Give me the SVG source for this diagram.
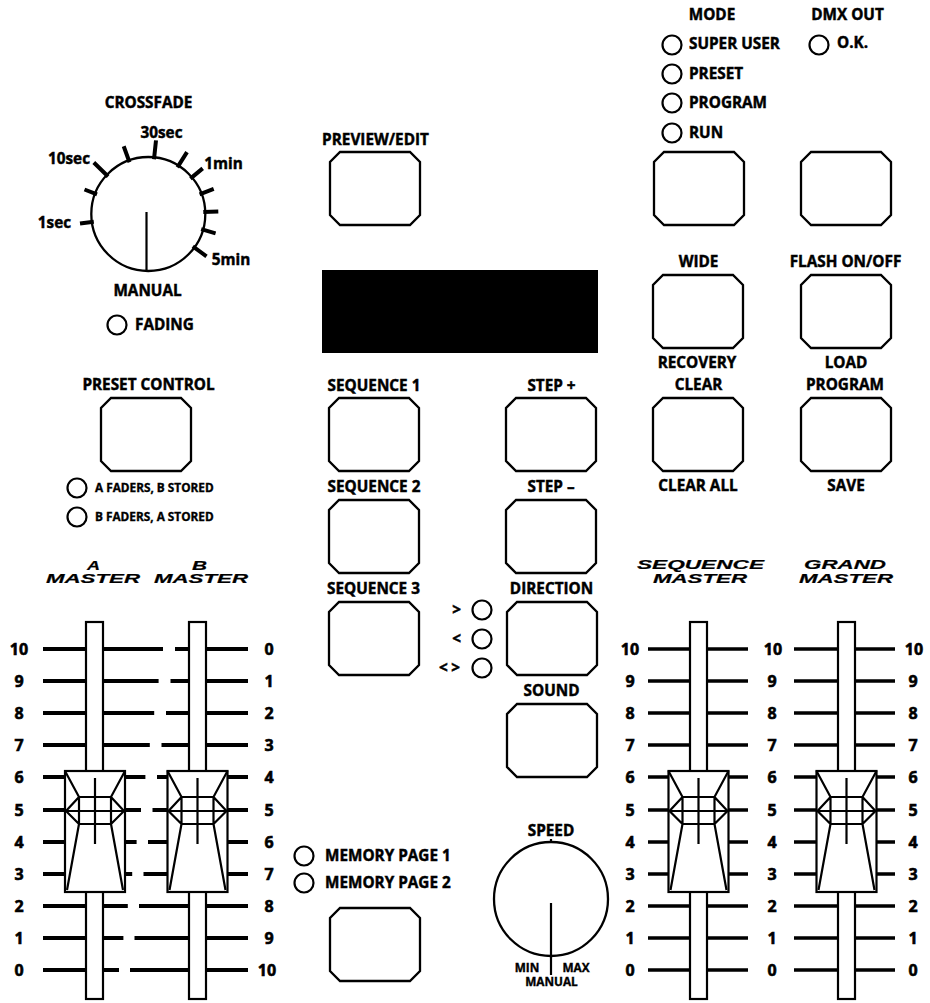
<svg xmlns="http://www.w3.org/2000/svg" xmlns:xlink="http://www.w3.org/1999/xlink" width="930" height="1003" viewBox="0 0 930 1003">
<style>
.b{fill:#fff;stroke:#000;stroke-width:2.3}
.led{fill:#fff;stroke:#000;stroke-width:2.2}
.ln{fill:none;stroke:#000;stroke-width:2.2}
.tk{fill:none;stroke:#000;stroke-width:4}
.tk3{fill:none;stroke:#000;stroke-width:3.3}
.dt{fill:none;stroke:#000;stroke-width:4}
text{font-family:"Open Sans","DejaVu Sans",sans-serif;font-weight:700;font-size:15.3px;fill:#000;stroke:#000;stroke-width:0.45}
.c{text-anchor:middle}
.e{text-anchor:end}
.s{font-size:11.8px;stroke-width:0.35}
.n{font-size:16px;text-anchor:middle;stroke-width:0.6}
.m{font-family:"Liberation Sans",Arial,sans-serif;font-style:italic;font-size:13px;stroke-width:0.2}
</style>
<defs>
<path id="btn" class="b" d="M10 0H80L90 10V63L80 73H10L0 63V10Z"/>
<g id="knob">
<rect x="-30" y="771" width="60" height="121" fill="#fff" stroke="#000" stroke-width="2.2"/>
<path class="ln" d="M-30 771L-16 797H16L30 771M-16 797V824H16V797M-29 811H29M-16 797L-29 811L-16 824M16 797L29 811L16 824M-16 824L-28 890M16 824L28 890M0 778V844"/>
</g>
</defs>
<rect width="930" height="1003" fill="#fff"/>

<g id="crossfade">
<text class="c" x="148.5" y="108">CROSSFADE</text>
<circle cx="148.3" cy="214" r="57" fill="#fff" stroke="#000" stroke-width="2.3"/>
<path class="dt" d="M93.8 221.7L80 223.5M97 194.3L84.5 189.5M108.1 176.5L93.8 162.5M129.5 162.3L123.7 146.3M154 159.3L156 140.4M177.4 167.4L187 152.1M190.4 178.6L202.7 168.4M199.6 194.3L213.7 188.9M203.3 212.1L218.3 211.6M201.2 229.2L215.6 233.3M192.8 246.3L206.5 256.3"/>
<path class="ln" d="M146.5 212V272"/>
<text class="c" x="161.5" y="138">30sec</text>
<text class="c" x="69" y="164">10sec</text>
<text class="c" x="223.5" y="169">1min</text>
<text class="c" x="54.5" y="228">1sec</text>
<text class="c" x="231" y="265">5min</text>
<text class="c" x="147.5" y="296">MANUAL</text>
</g>
<g id="fading">
<circle class="led" cx="117" cy="325" r="9.5"/>
<text x="135" y="330">FADING</text>
</g>

<g id="preview-edit">
<text class="c" x="375.5" y="145">PREVIEW/EDIT</text>
<use xlink:href="#btn" x="330" y="152"/>
</g>
<g id="display"><rect x="322" y="270" width="276" height="83" fill="#000"/></g>

<g id="mode">
<text class="c" x="712" y="20">MODE</text>
<circle class="led" cx="672" cy="45" r="9.5"/><text x="689" y="49">SUPER USER</text>
<circle class="led" cx="672" cy="74" r="9.5"/><text x="689" y="79">PRESET</text>
<circle class="led" cx="672" cy="103" r="9.5"/><text x="689" y="108">PROGRAM</text>
<circle class="led" cx="672" cy="133" r="9.5"/><text x="689" y="138">RUN</text>
<use xlink:href="#btn" x="654" y="152"/>
</g>
<g id="dmx-out">
<text class="c" x="847.5" y="20">DMX OUT</text>
<circle class="led" cx="819" cy="45" r="9.5"/><text x="837" y="48">O.K.</text>
<use xlink:href="#btn" x="801" y="152"/>
</g>
<g id="wide">
<text class="c" x="698.5" y="267">WIDE</text>
<use xlink:href="#btn" x="653" y="275"/>
<text class="c" x="697" y="368">RECOVERY</text>
</g>
<g id="flash">
<text class="c" x="845.5" y="267">FLASH ON/OFF</text>
<use xlink:href="#btn" x="801" y="275"/>
<text class="c" x="846" y="368">LOAD</text>
</g>
<g id="clear">
<text class="c" x="698.5" y="390">CLEAR</text>
<use xlink:href="#btn" x="653" y="398"/>
<text class="c" x="698" y="491">CLEAR ALL</text>
</g>
<g id="program">
<text class="c" x="845" y="390">PROGRAM</text>
<use xlink:href="#btn" x="801" y="398"/>
<text class="c" x="846" y="491">SAVE</text>
</g>

<g id="preset-control">
<text class="c" x="148.5" y="390">PRESET CONTROL</text>
<use xlink:href="#btn" x="101" y="398"/>
<circle class="led" cx="77" cy="488" r="9.5"/><text class="s" x="95" y="492">A FADERS, B STORED</text>
<circle class="led" cx="77" cy="517" r="9.5"/><text class="s" x="95" y="521">B FADERS, A STORED</text>
</g>

<g id="sequence-1"><text class="c" x="374" y="391">SEQUENCE 1</text><use xlink:href="#btn" x="329" y="398"/></g>
<g id="step-plus"><text class="c" x="551.5" y="391">STEP +</text><use xlink:href="#btn" x="506" y="398"/></g>
<g id="sequence-2"><text class="c" x="374" y="492">SEQUENCE 2</text><use xlink:href="#btn" x="329" y="500"/></g>
<g id="step-minus"><text class="c" x="551" y="492">STEP –</text><use xlink:href="#btn" x="506" y="500"/></g>
<g id="sequence-3"><text class="c" x="373.5" y="594">SEQUENCE 3</text><use xlink:href="#btn" x="329" y="602"/></g>
<g id="direction">
<text class="c" x="551.5" y="594">DIRECTION</text>
<use xlink:href="#btn" x="507" y="602"/>
<circle class="led" cx="482" cy="610" r="9.5"/><text class="e" x="461" y="615">&gt;</text>
<circle class="led" cx="482" cy="639" r="9.5"/><text class="e" x="461" y="644">&lt;</text>
<circle class="led" cx="482" cy="668" r="9.5"/><text x="439" y="673" textLength="21">&lt;&gt;</text>
</g>
<g id="sound"><text class="c" x="551.5" y="696">SOUND</text><use xlink:href="#btn" x="507" y="704"/></g>

<g id="memory-page">
<circle class="led" cx="304" cy="856" r="9.5"/><text x="325" y="861">MEMORY PAGE 1</text>
<circle class="led" cx="304" cy="883" r="9.5"/><text x="325" y="888">MEMORY PAGE 2</text>
<use xlink:href="#btn" x="330" y="908"/>
</g>

<g id="speed">
<text class="c" x="551" y="836">SPEED</text>
<circle cx="551" cy="899" r="57" fill="#fff" stroke="#000" stroke-width="2.3"/>
<path class="ln" d="M551 839V843M551 903V975"/>
<text class="c s" x="527" y="972">MIN</text>
<text class="c s" x="576" y="972">MAX</text>
<text class="c s" x="551.5" y="986">MANUAL</text>
</g>

<g id="ab-faders">
<text class="m" x="87" y="570" textLength="13" lengthAdjust="spacingAndGlyphs">A</text>
<text class="m" x="46" y="583" textLength="94" lengthAdjust="spacingAndGlyphs">MASTER</text>
<text class="m" x="192" y="570" textLength="15" lengthAdjust="spacingAndGlyphs">B</text>
<text class="m" x="154" y="583" textLength="94" lengthAdjust="spacingAndGlyphs">MASTER</text>
<path class="tk" d="M43 649H163M175 649H248M43 681H158.6M170.5 681H248M43 713H154.2M166 713H248M43 745H149.8M161.5 745H248M43 777H145.4M157 777H248M43 810H141M152.5 810H248M43 842H136.6M148 842H248M43 874H132.2M143.5 874H248M43 906H127.8M139 906H248M43 938H123.4M134.5 938H248M43 970H119M130 970H248"/>
<rect x="86" y="622" width="17" height="377" fill="#fff" stroke="#000" stroke-width="2.2"/>
<rect x="189" y="622" width="17" height="377" fill="#fff" stroke="#000" stroke-width="2.2"/>
<use xlink:href="#knob" x="95"/>
<use xlink:href="#knob" x="197.5"/>
<text class="n" x="19" y="655">10</text><text class="n" x="19" y="687">9</text><text class="n" x="19" y="719">8</text><text class="n" x="19" y="751">7</text><text class="n" x="19" y="783">6</text><text class="n" x="19" y="816">5</text><text class="n" x="19" y="848">4</text><text class="n" x="19" y="880">3</text><text class="n" x="19" y="912">2</text><text class="n" x="19" y="944">1</text><text class="n" x="19" y="976">0</text>
<text class="n" x="269" y="655">0</text><text class="n" x="269" y="687">1</text><text class="n" x="269" y="719">2</text><text class="n" x="269" y="751">3</text><text class="n" x="269" y="783">4</text><text class="n" x="269" y="816">5</text><text class="n" x="269" y="848">6</text><text class="n" x="269" y="880">7</text><text class="n" x="269" y="912">8</text><text class="n" x="269" y="944">9</text><text class="n" x="267" y="976">10</text>
</g>

<g id="sequence-master">
<text class="m" x="637" y="569" textLength="127" lengthAdjust="spacingAndGlyphs">SEQUENCE</text>
<text class="m" x="653" y="583" textLength="94" lengthAdjust="spacingAndGlyphs">MASTER</text>
<path class="tk3" d="M648 649H748M648 681H748M648 713H748M648 745H748M648 777H748M648 810H748M648 842H748M648 874H748M648 906H748M648 938H748M648 970H748"/>
<rect x="690" y="622" width="17" height="377" fill="#fff" stroke="#000" stroke-width="2.2"/>
<use xlink:href="#knob" x="698.5"/>
<text class="n" x="630" y="655">10</text><text class="n" x="630" y="687">9</text><text class="n" x="630" y="719">8</text><text class="n" x="630" y="751">7</text><text class="n" x="630" y="783">6</text><text class="n" x="630" y="816">5</text><text class="n" x="630" y="848">4</text><text class="n" x="630" y="880">3</text><text class="n" x="630" y="912">2</text><text class="n" x="630" y="944">1</text><text class="n" x="630" y="976">0</text>
<text class="n" x="773" y="655">10</text><text class="n" x="772" y="687">9</text><text class="n" x="772" y="719">8</text><text class="n" x="772" y="751">7</text><text class="n" x="772" y="783">6</text><text class="n" x="772" y="816">5</text><text class="n" x="772" y="848">4</text><text class="n" x="772" y="880">3</text><text class="n" x="772" y="912">2</text><text class="n" x="772" y="944">1</text><text class="n" x="772" y="976">0</text>
</g>

<g id="grand-master">
<text class="m" x="804" y="569" textLength="82" lengthAdjust="spacingAndGlyphs">GRAND</text>
<text class="m" x="799" y="583" textLength="94" lengthAdjust="spacingAndGlyphs">MASTER</text>
<path class="tk3" d="M794 649H895M794 681H895M794 713H895M794 745H895M794 777H895M794 810H895M794 842H895M794 874H895M794 906H895M794 938H895M794 970H895"/>
<rect x="838" y="622" width="17" height="377" fill="#fff" stroke="#000" stroke-width="2.2"/>
<use xlink:href="#knob" x="846.5"/>
<text class="n" x="914" y="655">10</text><text class="n" x="913" y="687">9</text><text class="n" x="913" y="719">8</text><text class="n" x="913" y="751">7</text><text class="n" x="913" y="783">6</text><text class="n" x="913" y="816">5</text><text class="n" x="913" y="848">4</text><text class="n" x="913" y="880">3</text><text class="n" x="913" y="912">2</text><text class="n" x="913" y="944">1</text><text class="n" x="913" y="976">0</text>
</g>

<g id="connectors"></g>
</svg>
